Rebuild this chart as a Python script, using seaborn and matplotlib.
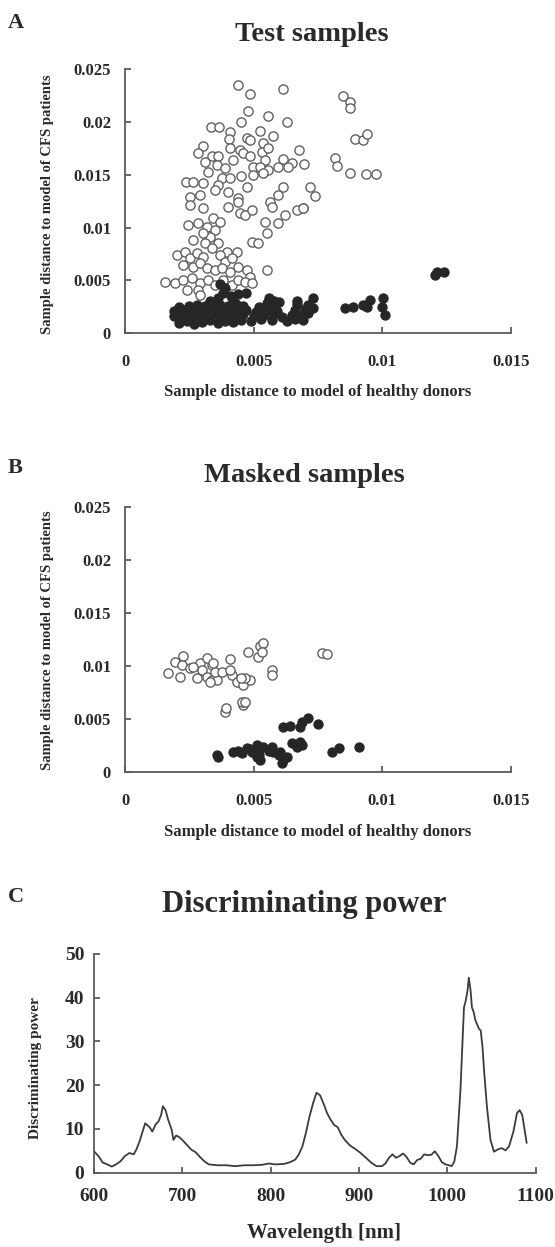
import pandas as pd
import matplotlib
matplotlib.use('Agg')
import matplotlib.pyplot as plt
import seaborn as sns

# Panel A - test samples
a_open_x = [0.00439, 0.00486, 0.00614, 0.00478, 0.00556, 0.00451, 0.00630, 0.00334, 0.00365, 0.00408,
            0.00525, 0.00575, 0.00404, 0.00474, 0.00486, 0.00536, 0.00676, 0.00303, 0.00284, 0.00338,
            0.00361, 0.00408, 0.00447, 0.00459, 0.00486, 0.00532, 0.00556, 0.00420, 0.00544, 0.00614,
            0.00649, 0.00633, 0.00696, 0.00311, 0.00358, 0.00389, 0.00497, 0.00525, 0.00556, 0.00595,
            0.00323, 0.00377, 0.00408, 0.00451, 0.00497, 0.00536, 0.00237, 0.00264, 0.00303, 0.00361,
            0.00474, 0.00614, 0.00719, 0.00253, 0.00291, 0.00350, 0.00400, 0.00439, 0.00595, 0.00738,
            0.00847, 0.00874, 0.00874, 0.00894, 0.00925, 0.00940, 0.00816, 0.00824, 0.00874, 0.00937,
            0.00975, 0.00692,
            0.00253, 0.00303, 0.00400, 0.00439, 0.00447, 0.00466, 0.00494, 0.00563, 0.00571, 0.00668,
            0.00692, 0.00622, 0.00595, 0.00544, 0.00552, 0.00494, 0.00517, 0.00342, 0.00369, 0.00319,
            0.00350, 0.00330, 0.00245, 0.00284, 0.00264, 0.00303, 0.00311, 0.00361, 0.00396, 0.00435,
            0.00202, 0.00233, 0.00253, 0.00280, 0.00303, 0.00338, 0.00369, 0.00389, 0.00416, 0.00225,
            0.00264, 0.00291, 0.00319, 0.00350, 0.00377, 0.00408, 0.00439, 0.00474, 0.00486, 0.00552,
            0.00155, 0.00194, 0.00225, 0.00260, 0.00291, 0.00323, 0.00350, 0.00381, 0.00416, 0.00439,
            0.00466, 0.00494, 0.00241, 0.00284, 0.00291]
a_open_y = [0.02349, 0.02263, 0.02311, 0.02102, 0.02055, 0.01998, 0.01998, 0.01951, 0.01951, 0.01904,
            0.01913, 0.01866, 0.01837, 0.01847, 0.01828, 0.01799, 0.01733, 0.01771, 0.01705, 0.01676,
            0.01676, 0.01752, 0.01733, 0.01705, 0.01676, 0.01714, 0.01752, 0.01638, 0.01638, 0.01648,
            0.01610, 0.01572, 0.01600, 0.01619, 0.01591, 0.01563, 0.01572, 0.01572, 0.01544, 0.01572,
            0.01525, 0.01468, 0.01468, 0.01487, 0.01496, 0.01515, 0.01430, 0.01430, 0.01420, 0.01402,
            0.01383, 0.01383, 0.01383, 0.01288, 0.01307, 0.01354, 0.01335, 0.01278, 0.01307, 0.01297,
            0.02244, 0.02188, 0.02131, 0.01837, 0.01828, 0.01885, 0.01657, 0.01582, 0.01515, 0.01506,
            0.01506, 0.01184,
            0.01212, 0.01184, 0.01193, 0.01240, 0.01136, 0.01117, 0.01165, 0.01240, 0.01193, 0.01165,
            0.01184, 0.01117, 0.01042, 0.01051, 0.00947, 0.00862, 0.00852, 0.01089, 0.01051, 0.01004,
            0.00975, 0.00909, 0.01023, 0.01042, 0.00881, 0.00947, 0.00852, 0.00852, 0.00767, 0.00767,
            0.00739, 0.00767, 0.00710, 0.00758, 0.00720, 0.00805, 0.00739, 0.00672, 0.00710, 0.00644,
            0.00625, 0.00663, 0.00616, 0.00597, 0.00616, 0.00578, 0.00625, 0.00597, 0.00530, 0.00597,
            0.00483, 0.00474, 0.00502, 0.00521, 0.00474, 0.00502, 0.00455, 0.00502, 0.00455, 0.00502,
            0.00483, 0.00474, 0.00407, 0.00407, 0.00360]

a_filled_x = [0.0021, 0.0024, 0.0027, 0.0030, 0.0033, 0.0036, 0.0039, 0.0042, 0.0045, 0.0049,
              0.0053, 0.0057, 0.0063, 0.0066, 0.0069,
              0.0019, 0.0022, 0.0025, 0.0028, 0.0031, 0.0034, 0.0037, 0.0040, 0.0043, 0.0046,
              0.0050, 0.0054, 0.0058, 0.0061, 0.0065, 0.0068, 0.0071,
              0.0019, 0.0023, 0.0026, 0.0029, 0.0032, 0.0035, 0.0038, 0.0041, 0.0044, 0.0047,
              0.0051, 0.0055, 0.0059, 0.0066, 0.0070, 0.0073,
              0.0021, 0.0025, 0.0028, 0.0031, 0.0034, 0.0037, 0.0040, 0.0043, 0.0046, 0.0052,
              0.0055, 0.0058, 0.0067, 0.0071,
              0.0037, 0.0039, 0.0038, 0.0041, 0.0036, 0.0044, 0.0047, 0.0033, 0.0042, 0.0056,
              0.0058, 0.0067, 0.0073, 0.0060,
              0.00855, 0.00886, 0.00925, 0.00952, 0.00940, 0.01003, 0.00999, 0.01010, 0.01212, 0.01240,
              0.01205]
a_filled_y = [0.0010, 0.0012, 0.0009, 0.0011, 0.0013, 0.0010, 0.0012, 0.0011, 0.0013, 0.0012,
              0.0014, 0.0013, 0.0012, 0.0014, 0.0013,
              0.0016, 0.0017, 0.0015, 0.0017, 0.0016, 0.0018, 0.0015, 0.0017, 0.0016, 0.0018,
              0.0016, 0.0017, 0.0018, 0.0015, 0.0017, 0.0016, 0.0019,
              0.0021, 0.0022, 0.0020, 0.0023, 0.0021, 0.0022, 0.0020, 0.0023, 0.0021, 0.0022,
              0.0020, 0.0022, 0.0021, 0.0022, 0.0023, 0.0024,
              0.0025, 0.0026, 0.0027, 0.0026, 0.0028, 0.0027, 0.0026, 0.0028, 0.0026, 0.0025,
              0.0029, 0.0027, 0.0028, 0.0027,
              0.0047, 0.0043, 0.0038, 0.0035, 0.0033, 0.0037, 0.0038, 0.0031, 0.0031, 0.0033,
              0.0031, 0.0031, 0.0033, 0.0030,
              0.00237, 0.00246, 0.00265, 0.00313, 0.00246, 0.00331, 0.00246, 0.00170, 0.00578, 0.00585,
              0.00549]

# Panel B - masked samples
b_open_x = [0.00167, 0.00194, 0.00225, 0.00214, 0.00222, 0.00253, 0.00280, 0.00291, 0.00319, 0.00299,
            0.00319, 0.00338, 0.00358, 0.00338, 0.00350, 0.00377, 0.00408, 0.00416, 0.00435, 0.00459,
            0.00486, 0.00466, 0.00408, 0.00478, 0.00517, 0.00525, 0.00536, 0.00532, 0.00571, 0.00571,
            0.00389, 0.00392, 0.00459, 0.00455, 0.00466, 0.00766, 0.00785, 0.00330, 0.00342, 0.00264,
            0.00450]
b_open_y = [0.00934, 0.01037, 0.01094, 0.00896, 0.01009, 0.00981, 0.00886, 0.01028, 0.01075, 0.00962,
            0.00896, 0.00868, 0.00868, 0.01009, 0.00943, 0.00943, 0.01066, 0.00915, 0.00849, 0.00820,
            0.00868, 0.00886, 0.00962, 0.01132, 0.01085, 0.01188, 0.01216, 0.01132, 0.00962, 0.00915,
            0.00566, 0.00603, 0.00632, 0.00660, 0.00660, 0.01122, 0.01113, 0.00849, 0.01028, 0.00990,
            0.00880]
b_filled_x = [0.00358, 0.00361, 0.00420, 0.00455, 0.00474, 0.00494, 0.00513, 0.00513, 0.00525, 0.00505,
              0.00536, 0.00571, 0.00575, 0.00602, 0.00614, 0.00630, 0.00610, 0.00649, 0.00668, 0.00680,
              0.00688, 0.00614, 0.00641, 0.00680, 0.00688, 0.00711, 0.00750, 0.00804, 0.00832, 0.00909,
              0.00440, 0.00485, 0.00520, 0.00560, 0.00600, 0.00520]
b_filled_y = [0.00160, 0.00141, 0.00189, 0.00179, 0.00226, 0.00189, 0.00255, 0.00141, 0.00113, 0.00179,
              0.00236, 0.00236, 0.00189, 0.00189, 0.00113, 0.00141, 0.00085, 0.00273, 0.00236, 0.00283,
              0.00255, 0.00424, 0.00434, 0.00424, 0.00472, 0.00509, 0.00453, 0.00189, 0.00226, 0.00236,
              0.00200, 0.00215, 0.00205, 0.00200, 0.00160, 0.00160]

# Panel C - discriminating power
wavelength = [600, 605, 610, 615, 620, 625, 630, 635, 640, 645,
              648, 652, 655, 658, 660, 663, 666, 670, 673, 676,
              678, 681, 684, 688, 690, 693, 696, 700, 705, 710,
              715, 720, 725, 730, 740, 750, 760, 770, 780, 790,
              798, 805, 815, 822, 828, 832, 836, 840, 844, 848,
              852, 856, 860, 864, 868, 872, 876, 880, 884, 890,
              896, 902, 908, 914, 920, 926, 930, 934, 938, 942,
              946, 950, 954, 958, 962, 966, 970, 974, 978, 982,
              986, 990, 994, 998, 1002, 1005, 1008, 1011, 1015, 1019,
              1021, 1023, 1024.5, 1026.5, 1028, 1030, 1032, 1036, 1038, 1040,
              1042, 1045, 1049, 1053, 1058, 1062, 1066, 1070, 1075, 1079,
              1082, 1085, 1090]
power = [4.9, 3.8, 2.3, 1.9, 1.4, 1.9, 2.6, 3.8, 4.5, 4.2,
         5.3, 7.4, 9.4, 11.3, 10.9, 10.4, 9.4, 11.1, 11.7, 13.2,
         15.2, 14.3, 12.1, 9.8, 7.5, 8.5, 8.2, 7.5, 6.4, 5.3,
         4.7, 3.6, 2.6, 1.9, 1.7, 1.7, 1.5, 1.7, 1.7, 1.8,
         2.1, 1.9, 2.0, 2.4, 3.0, 4.2, 6.0, 9.1, 12.8, 15.8,
         18.3, 17.7, 15.8, 13.6, 12.1, 10.9, 10.4, 8.7, 7.5, 6.2,
         5.4, 4.5, 3.4, 2.3, 1.5, 1.5, 2.1, 3.4, 4.2, 3.4,
         3.8, 4.4, 3.6, 2.3, 1.9, 2.9, 3.2, 4.2, 4.0, 4.1,
         4.9, 3.8, 2.4, 1.9, 1.7, 1.5, 2.5, 6.0, 18.9, 37.8,
         39.3, 41.6, 44.6, 41.6, 37.8, 36.7, 34.8, 32.9, 32.5, 28.7,
         22.7, 15.1, 7.5, 4.8, 5.4, 5.6, 5.1, 6.0, 9.4, 13.6,
         14.3, 13.2, 6.8]

dist_ticks = [0, 0.005, 0.01, 0.015, 0.02, 0.025]
dist_labels = ['0', '0.005', '0.01', '0.015', '0.02', '0.025']
wl_ticks = [600, 700, 800, 900, 1000, 1100]
power_ticks = [0, 10, 20, 30, 40, 50]

sns.set_style('ticks')
plt.rcParams['font.family'] = ['Liberation Serif', 'DejaVu Serif']
plt.rcParams['font.weight'] = 'bold'

TXT = '#2a2a2a'
AX = '#5a5a5a'
W, H = 555, 1247

fig = plt.figure(figsize=(5.55, 12.47), dpi=100)


def rect(l, t, r, b):
    return [l / W, 1 - b / H, (r - l) / W, (b - t) / H]


def style_axes(ax, xpad, ypad, size):
    sns.despine(ax=ax)
    for s in ['left', 'bottom']:
        ax.spines[s].set_color(AX)
        ax.spines[s].set_linewidth(1.3)
    ax.tick_params(direction='in', length=4, width=1.3, color=AX, labelcolor=TXT, labelsize=size)
    ax.tick_params(axis='x', pad=xpad)
    ax.tick_params(axis='y', pad=ypad)
    for lab in ax.get_xticklabels() + ax.get_yticklabels():
        lab.set_fontweight('bold')
    ax.set_xlabel('')
    ax.set_ylabel('')


def scatter_panel(ax, ox, oy, fx, fy):
    sns.scatterplot(x=ox, y=oy, ax=ax, marker='o', s=44, facecolor='white',
                    edgecolor='#606060', linewidth=1.0, zorder=2)
    sns.scatterplot(x=fx, y=fy, ax=ax, marker='o', s=44, color='#262626',
                    edgecolor='#262626', linewidth=0.8, zorder=3)
    ax.set_xlim(0, 0.015)
    ax.set_ylim(0, 0.025)
    ax.set_xticks(dist_ticks[:4])
    ax.set_xticklabels(dist_labels[:4])
    ax.set_yticks(dist_ticks)
    ax.set_yticklabels(dist_labels)
    style_axes(ax, 15, 10, 12)


axA = fig.add_axes(rect(125, 69.3, 511, 333.3))
scatter_panel(axA, a_open_x, a_open_y, a_filled_x, a_filled_y)

axB = fig.add_axes(rect(125, 506.7, 511, 771.7))
scatter_panel(axB, b_open_x, b_open_y, b_filled_x, b_filled_y)

axC = fig.add_axes(rect(94, 954, 535.5, 1172.7))
df_c = pd.DataFrame({'wavelength': wavelength, 'power': power})
sns.lineplot(data=df_c, x='wavelength', y='power', ax=axC, color='#3c3c3c', linewidth=1.3)
axC.set_xlim(600, 1100)
axC.set_ylim(0, 50)
axC.set_xticks(wl_ticks)
axC.set_yticks(power_ticks)
style_axes(axC, 11, 7, 14)


def ftext(x, y, s, size, **kw):
    fig.text(x / W, 1 - y / H, s, fontsize=size, fontweight='bold', color=TXT, **kw)


ftext(8, 28, 'A', 16, ha='left', va='baseline')
ftext(8, 473, 'B', 16, ha='left', va='baseline')
ftext(8, 902, 'C', 16, ha='left', va='baseline')

ftext(312, 41, 'Test samples', 20.5, ha='center', va='baseline')
ftext(304, 482, 'Masked samples', 20.5, ha='center', va='baseline')
ftext(304, 912, 'Discriminating power', 22, ha='center', va='baseline')

ftext(318, 392, 'Sample distance to model of healthy donors', 12, ha='center', va='center')
ftext(318, 832, 'Sample distance to model of healthy donors', 12, ha='center', va='center')
ftext(324, 1233, 'Wavelength [nm]', 15, ha='center', va='center')

ftext(48, 204, 'Sample distance to model of CFS patients', 10.5, ha='center', va='center', rotation=90)
ftext(48, 640, 'Sample distance to model of CFS patients', 10.5, ha='center', va='center', rotation=90)
ftext(36, 1068, 'Discriminating power', 11, ha='center', va='center', rotation=90)

fig.savefig('out.png', dpi=100)
